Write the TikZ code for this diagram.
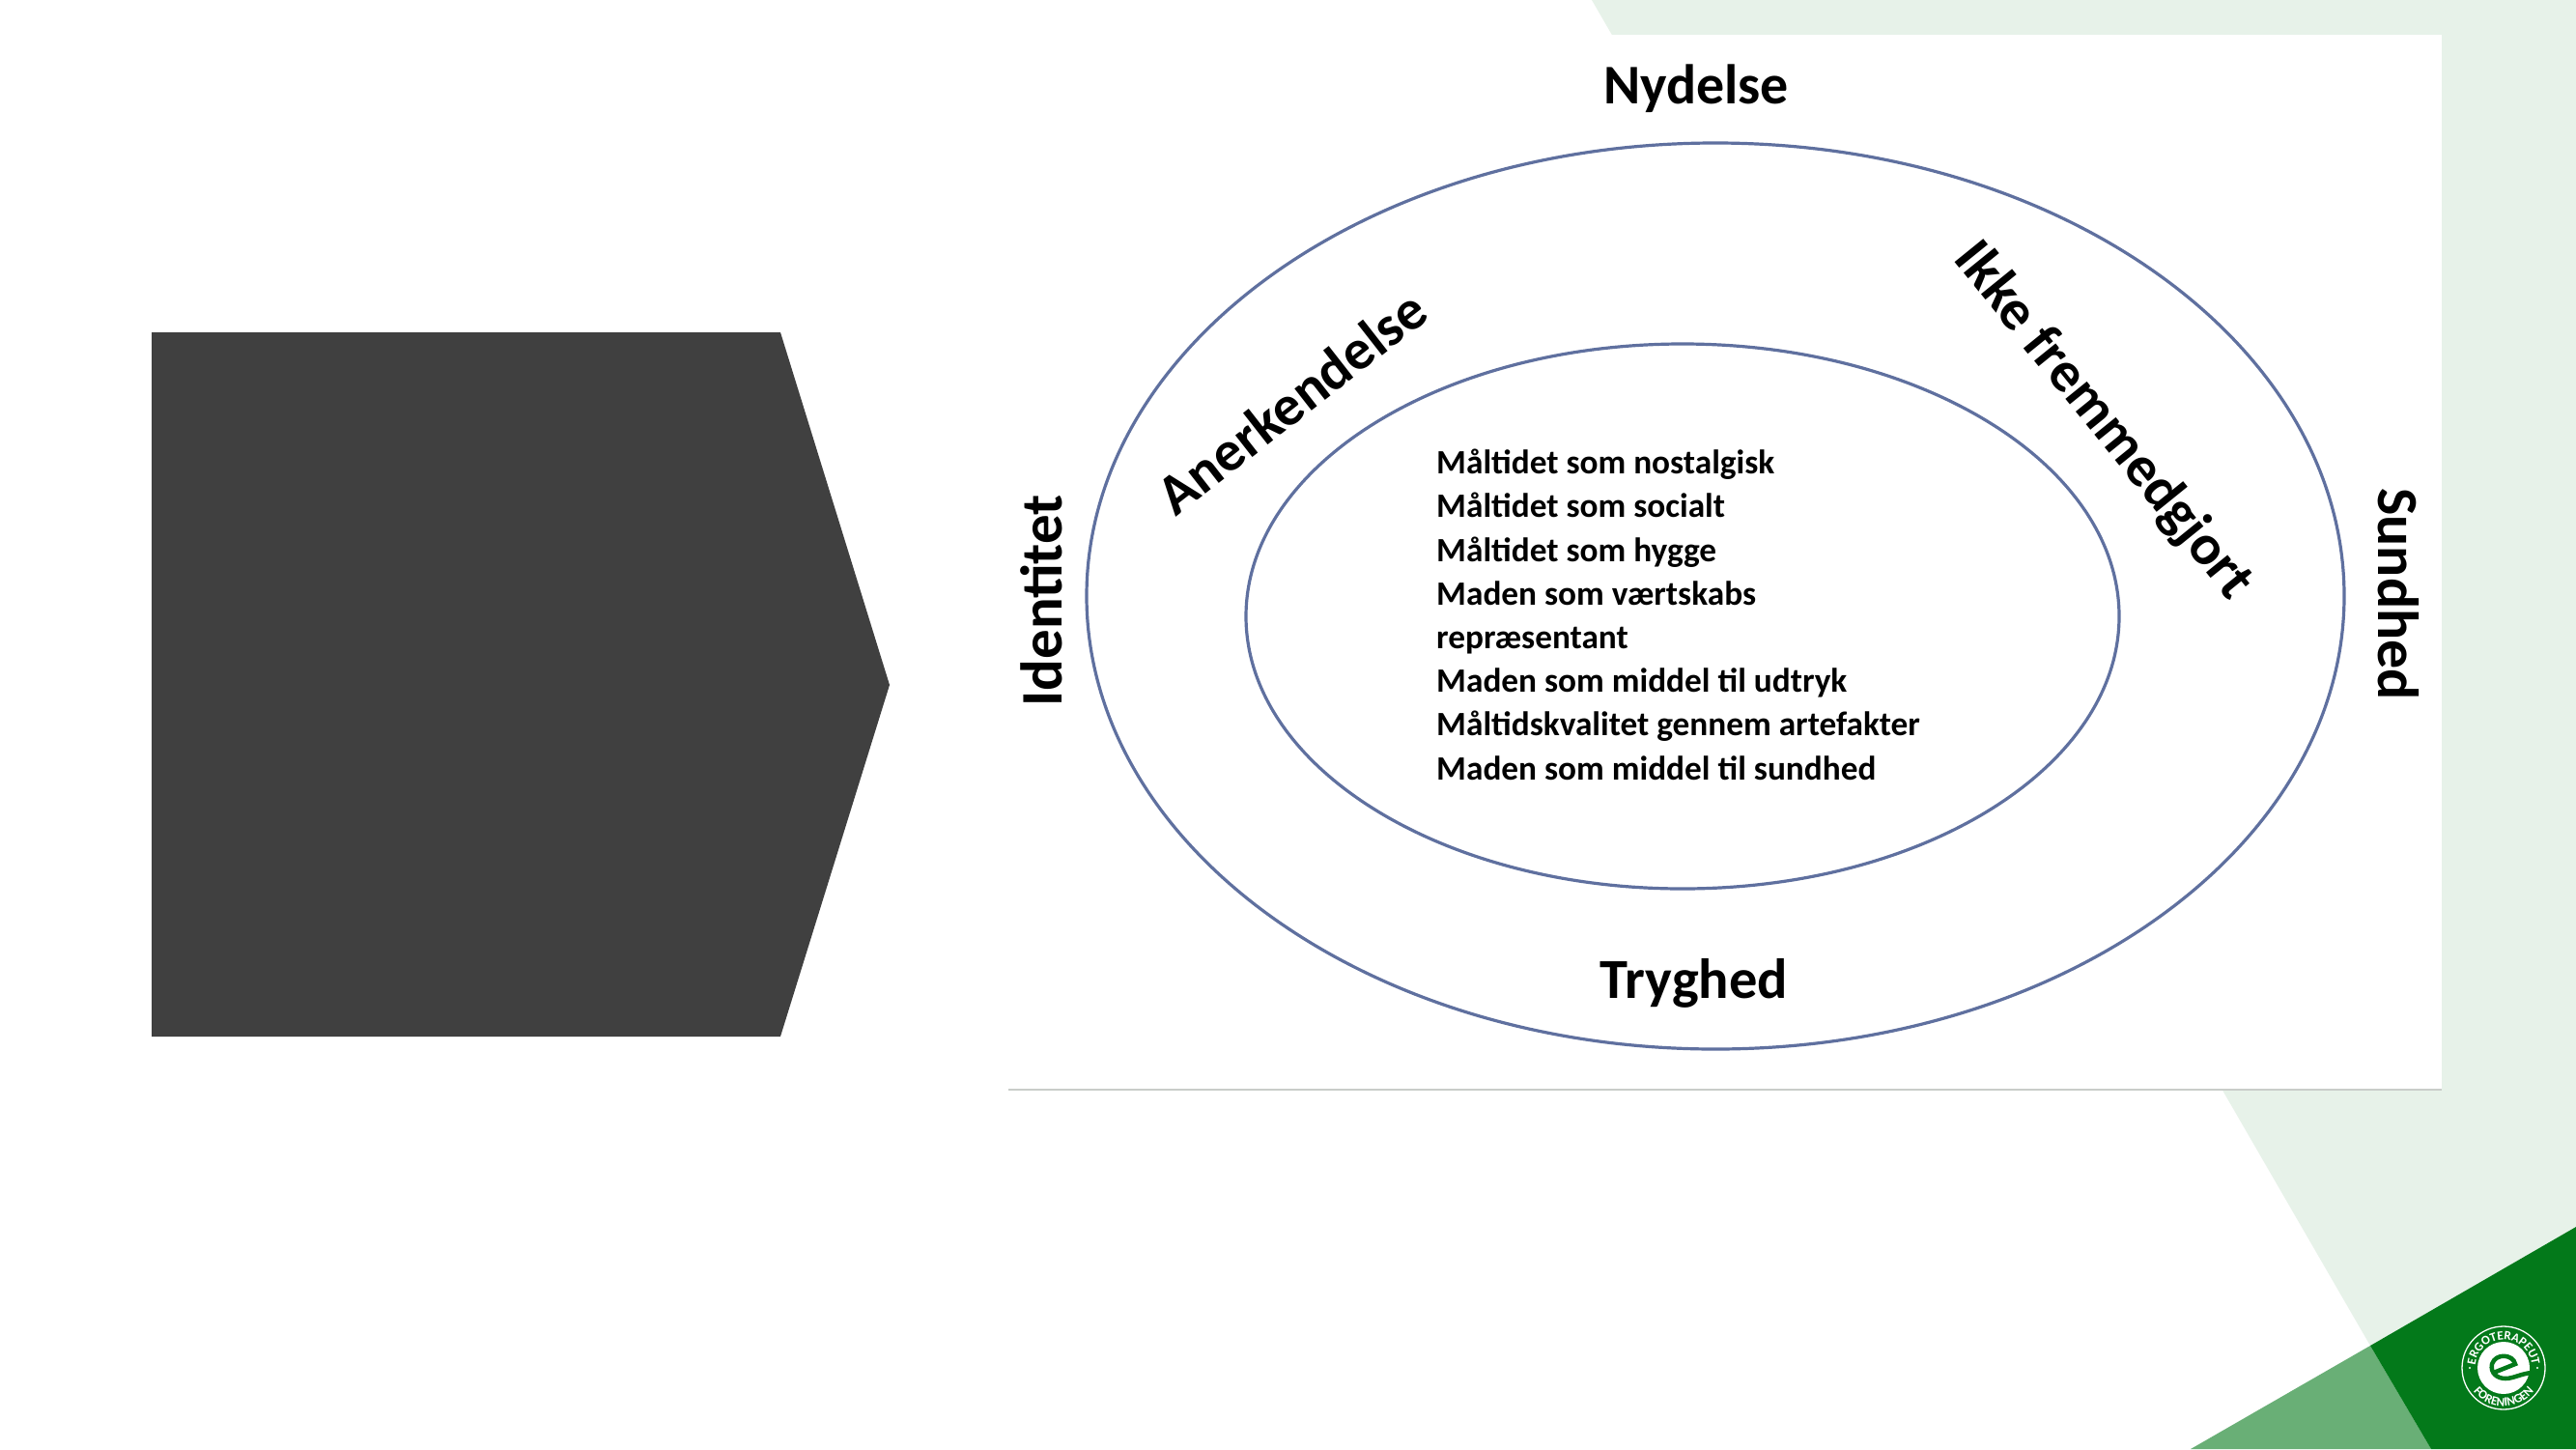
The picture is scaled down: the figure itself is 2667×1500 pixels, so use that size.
\documentclass[tikz,border=0pt]{standalone}
\usepackage{fontspec}
\setmainfont{Carlito}
\usetikzlibrary{decorations.text}
\definecolor{lightg}{HTML}{E7F2E9}
\definecolor{midg}{HTML}{69AF76}
\definecolor{darkg}{HTML}{03791A}
\definecolor{arrowc}{HTML}{404040}
\definecolor{ringc}{HTML}{5F709F}
\definecolor{rulec}{HTML}{C9CDC9}
\tikzset{
  ring/.style={draw=ringc,line width=3.2pt},
  biglabel/.style={font=\fontsize{#1}{60}\selectfont\bfseries,text=black,inner sep=0pt},
  listtext/.style={font=\fontsize{35.3}{45.2}\selectfont\bfseries,text=black,inner sep=0pt,align=left,anchor=north west},
  logotext/.style={decorate,decoration={text along path,text align=center,text color=white,
     text={|\fontsize{13}{15}\selectfont\bfseries|#1}}},
}
\begin{document}
\begin{tikzpicture}[x=1pt,y=-1pt]
\useasboundingbox (0,0) rectangle (2667,1500);
\fill[white] (0,0) rectangle (2667,1500);
\fill[lightg] (1648,0) -- (2667,0) -- (2667,1270) -- (2454,1393) -- cycle;
\fill[midg] (2454,1393) -- (2517,1500) -- (2268,1500) -- cycle;
\fill[darkg] (2454,1393) -- (2667,1270) -- (2667,1500) -- (2517,1500) -- cycle;
\fill[white] (1044,36) rectangle (2528,1128);
\draw[rulec,line width=2.5pt] (1044,1128) -- (2528,1128);
\fill[arrowc] (157,344) -- (808,344) -- (921,709) -- (808,1073) -- (157,1073) -- cycle;
\draw[ring] (1776,617) ellipse [x radius=651,y radius=469];
\draw[ring] (1742,638) ellipse [x radius=452,y radius=282];
\node[biglabel=58] (nydelse) at (1756,92) {Nydelse};
\node[biglabel=58.5] (tryghed) at (1754,1018) {Tryghed};
\node[biglabel=61,rotate=90] (identitet) at (1078,622) {Identitet};
\node[biglabel=60,rotate=-90] (sundhed) at (2483,615) {Sundhed};
\node[biglabel=59,rotate=38] (anerkendelse) at (1337,416) {Anerkendelse};
\node[biglabel=59,rotate=-51] (ikke) at (2177,436) {Ikke fremmedgjort};
\node[listtext] (list) at (1487,465) {Måltidet som nostalgisk\\Måltidet som socialt\\Måltidet som hygge\\Maden som værtskabs\\repræsentant\\Maden som middel til udtryk\\Måltidskvalitet gennem artefakter\\Maden som middel til sundhed};
\begin{scope}[shift={(2592,1416)},x=1pt,y=1pt]
\draw[white,line width=1.3pt] (0,0) circle (43);
\fill[white] (0,0) circle (27);
\draw[darkg,line width=4.5pt,line cap=round] (-8,-4) -- (12,4) .. controls (10,14) and (-8,16) .. (-12,4) .. controls (-14,-6) and (-6,-11) .. (2,-11) .. controls (10,-11) and (18,-6) .. (29,-5);
\path[logotext={ERGOTERAPEUT}] (175:29.5) arc[start angle=175,end angle=5,radius=29.5];
\path[logotext={FORENINGEN}] (190:39.5) arc[start angle=190,end angle=350,radius=39.5];
\fill[white] (180:35) circle (1.1) (0:35) circle (1.1);
\end{scope}
\end{tikzpicture}
\end{document}
